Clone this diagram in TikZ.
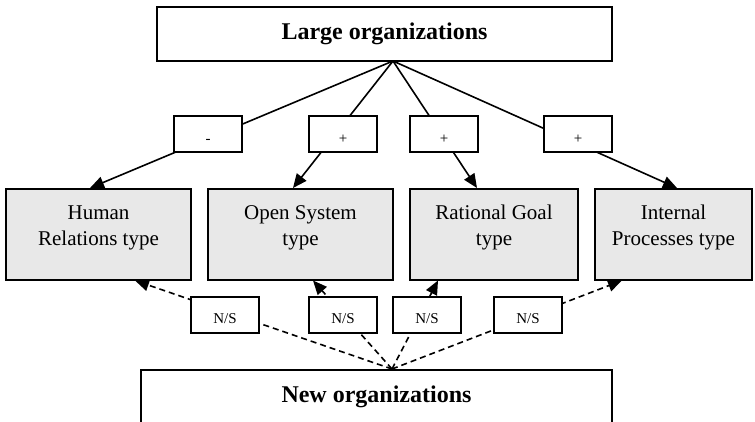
\documentclass[tikz,border=0pt]{standalone}
\usepackage{fontspec}
\setmainfont{Liberation Serif}
\usetikzlibrary{arrows.meta,calc}
\definecolor{typegray}{HTML}{E8E8E8}
\tikzset{
  orgbox/.style={draw, line width=1.5pt, fill=white, inner sep=0pt, font=\fontsize{24}{28}\selectfont\bfseries},
  typebox/.style={draw, line width=1.5pt, fill=typegray, inner sep=0pt, anchor=north, align=center,
     minimum height=91pt, text height=57pt, text depth=34pt, font=\fontsize{21}{26}\selectfont},
  signbox/.style={draw, line width=1.5pt, fill=white, inner sep=0pt, minimum width=68pt, minimum height=36pt,
     text height=27pt, text depth=9pt, font=\fontsize{15}{18}\selectfont},
  solidarrow/.style={line width=1.6pt, -{Triangle[length=14pt,width=12pt]}},
  nsarrow/.style={line width=1.6pt, dash pattern=on 6pt off 4pt, -{Triangle[length=14pt,width=12pt]}}
}
\begin{document}
\begin{tikzpicture}[x=1pt,y=-1pt]
\useasboundingbox (0,0) rectangle (755,421);
% top and bottom organisations
\node[orgbox, minimum width=455pt, minimum height=54pt] (large) at (384.5,34) {Large organizations};
\node[orgbox, anchor=north, minimum width=471pt, text height=33pt, text depth=32pt] (new) at (376.5,369) {New organizations};
\coordinate (ltop) at (393,61);
\coordinate (nbot) at (392,369);
% type boxes
\node[typebox, minimum width=185pt] (hrt) at (98.5,188) {Human\\Relations type};
\node[typebox, minimum width=185pt] (ost) at (300.5,188) {Open System\\type};
\node[typebox, minimum width=168pt] (rgt) at (494,188) {Rational Goal\\type};
\node[typebox, minimum width=157pt] (ipt) at (673.5,188) {Internal\\Processes type};
% solid arrows from large organizations
\draw[solidarrow] (ltop) -- ($(hrt.north)+(-8.5,0)$);
\draw[solidarrow] (ltop) -- ($(ost.north)+(-7.5,0)$);
\draw[solidarrow] (ltop) -- ($(rgt.north)+(-17,0)$);
\draw[solidarrow] (ltop) -- ($(ipt.north)+(3.5,0)$);
% dashed arrows from new organizations
\draw[nsarrow] (nbot) -- ($(hrt.south)+(36.5,0)$);
\draw[nsarrow] (nbot) -- ($(ost.south)+(12.5,0)$);
\draw[nsarrow] (nbot) -- ($(rgt.south)+(-56,0)$);
\draw[nsarrow] (nbot) -- ($(ipt.south)+(-51.5,0)$);
% sign boxes
\node[signbox] (s1) at (208,134) {-};
\node[signbox] (s2) at (343,134) {+};
\node[signbox] (s3) at (444,134) {+};
\node[signbox] (s4) at (578,134) {+};
\node[signbox, text height=26pt, text depth=10pt] (n1) at (225,315) {N/S};
\node[signbox, text height=26pt, text depth=10pt] (n2) at (343,315) {N/S};
\node[signbox, text height=26pt, text depth=10pt] (n3) at (427,315) {N/S};
\node[signbox, text height=26pt, text depth=10pt] (n4) at (528,315) {N/S};
\end{tikzpicture}
\end{document}
